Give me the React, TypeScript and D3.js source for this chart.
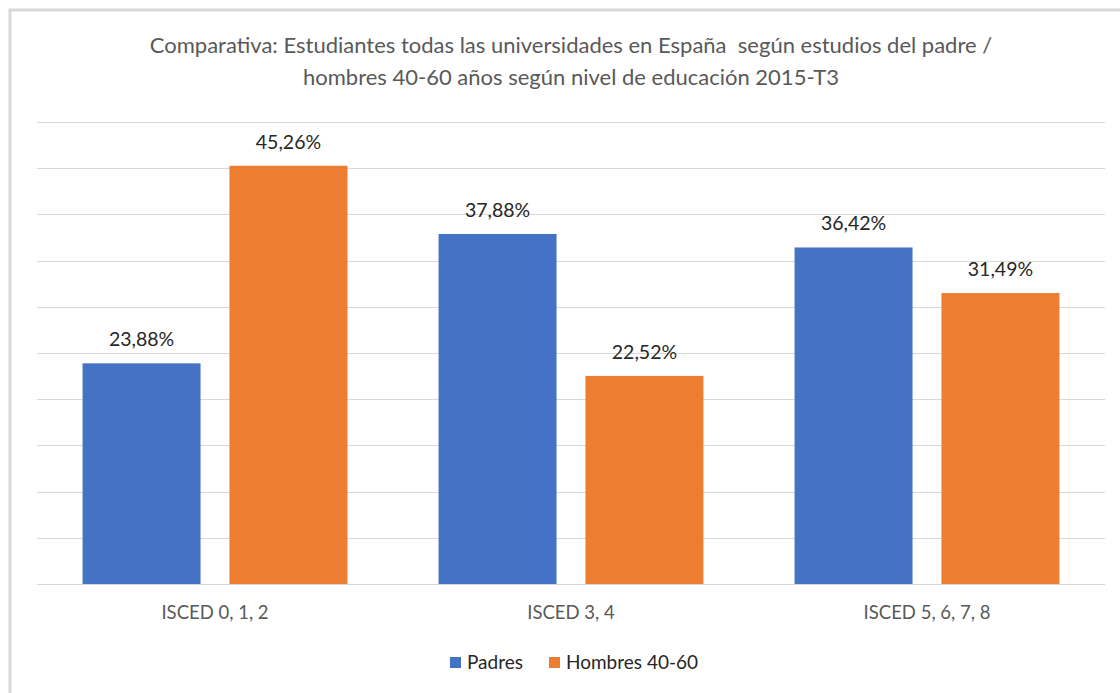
import { useEffect, useRef } from "react";
import { select, scaleBand, scaleLinear, range } from "d3";

const categories = ["ISCED 0, 1, 2", "ISCED 3, 4", "ISCED 5, 6, 7, 8"];
const series = ["Padres", "Hombres 40-60"];
const padres = [23.88, 37.88, 36.42];
const hombres = [45.26, 22.52, 31.49];
const colors = ["#4472C4", "#ED7D31"];
const titleLines = [
  "Comparativa: Estudiantes todas las universidades en España  según estudios del padre /",
  "hombres 40-60 años según nivel de educación 2015-T3",
];
const yMax = 50;
const yStep = 5;

const W = 1120;
const H = 693;
const FONT = "Lato, Carlito, Calibri, sans-serif";

const App = () => {
  const svgRef = useRef<SVGSVGElement>(null);

  useEffect(() => {
    const svg = select(svgRef.current);
    svg.selectAll("*").remove();

    const left = 37;
    const right = 1105;
    const top = 122;
    const bottom = 584;

    const x0 = scaleBand<string>()
      .domain(categories)
      .range([left, right])
      .paddingInner(0.256)
      .paddingOuter(0.128);
    const x1 = scaleBand<string>()
      .domain(series)
      .range([0, x0.bandwidth()])
      .paddingInner(0.197);
    const y = scaleLinear().domain([0, yMax]).range([bottom, top]);

    // white background + frame
    svg.append("rect").attr("width", W).attr("height", H).attr("fill", "#fff");
    svg
      .append("rect")
      .attr("x", 10)
      .attr("y", 10)
      .attr("width", W + 20)
      .attr("height", H + 20)
      .attr("fill", "none")
      .attr("stroke", "#d9d9d9")
      .attr("stroke-width", 3);

    // title
    svg
      .append("g")
      .selectAll("text")
      .data(titleLines)
      .join("text")
      .attr("x", (left + right) / 2)
      .attr("y", (d, i) => 53 + i * 32)
      .attr("text-anchor", "middle")
      .attr("font-family", FONT)
      .attr("font-size", 22)
      .attr("fill", "#595959")
      .style("white-space", "pre")
      .text((d) => d);

    // gridlines
    svg
      .append("g")
      .selectAll("line")
      .data(range(0, yMax + yStep / 2, yStep))
      .join("line")
      .attr("x1", left)
      .attr("x2", right)
      .attr("y1", (d) => Math.round(y(d)) + 0.5)
      .attr("y2", (d) => Math.round(y(d)) + 0.5)
      .attr("stroke", "#d9d9d9")
      .attr("stroke-width", 1);

    const rows = categories.map((c, i) => ({
      cat: c,
      vals: [padres[i], hombres[i]],
    }));

    const groups = svg
      .append("g")
      .selectAll("g")
      .data(rows)
      .join("g")
      .attr("transform", (d) => `translate(${x0(d.cat)},0)`);

    groups
      .selectAll("rect")
      .data((d) => d.vals.map((v, j) => ({ s: series[j], v, j })))
      .join("rect")
      .attr("x", (d) => x1(d.s)!)
      .attr("width", x1.bandwidth())
      .attr("y", (d) => y(d.v))
      .attr("height", (d) => bottom - y(d.v))
      .attr("fill", (d) => colors[d.j]);

    groups
      .selectAll("text.lbl")
      .data((d) => d.vals.map((v, j) => ({ s: series[j], v, j })))
      .join("text")
      .attr("class", "lbl")
      .attr("x", (d) => x1(d.s)! + x1.bandwidth() / 2)
      .attr("y", (d) => y(d.v) - 17)
      .attr("text-anchor", "middle")
      .attr("font-family", FONT)
      .attr("font-size", 19.5)
      .attr("fill", "#262626")
      .text((d) => d.v.toFixed(2).replace(".", ",") + "%");

    // category labels
    svg
      .append("g")
      .selectAll("text")
      .data(categories)
      .join("text")
      .attr("x", (d) => x0(d)! + x0.bandwidth() / 2)
      .attr("y", 619)
      .attr("text-anchor", "middle")
      .attr("font-family", FONT)
      .attr("font-size", 18.5)
      .attr("fill", "#595959")
      .text((d) => d);

    // legend
    const legend = svg.append("g");
    const legendX = [450, 549];
    series.forEach((s, i) => {
      legend
        .append("rect")
        .attr("x", legendX[i])
        .attr("y", 657)
        .attr("width", 11)
        .attr("height", 11)
        .attr("fill", colors[i]);
      legend
        .append("text")
        .attr("x", legendX[i] + 17)
        .attr("y", 669)
        .attr("font-family", FONT)
        .attr("font-size", 19)
        .attr("fill", "#262626")
        .text(s);
    });
  }, []);

  return (
    <svg
      ref={svgRef}
      width={W}
      height={H}
      style={{ display: "block", position: "absolute", left: 0, top: 0 }}
    />
  );
};

export default App;
